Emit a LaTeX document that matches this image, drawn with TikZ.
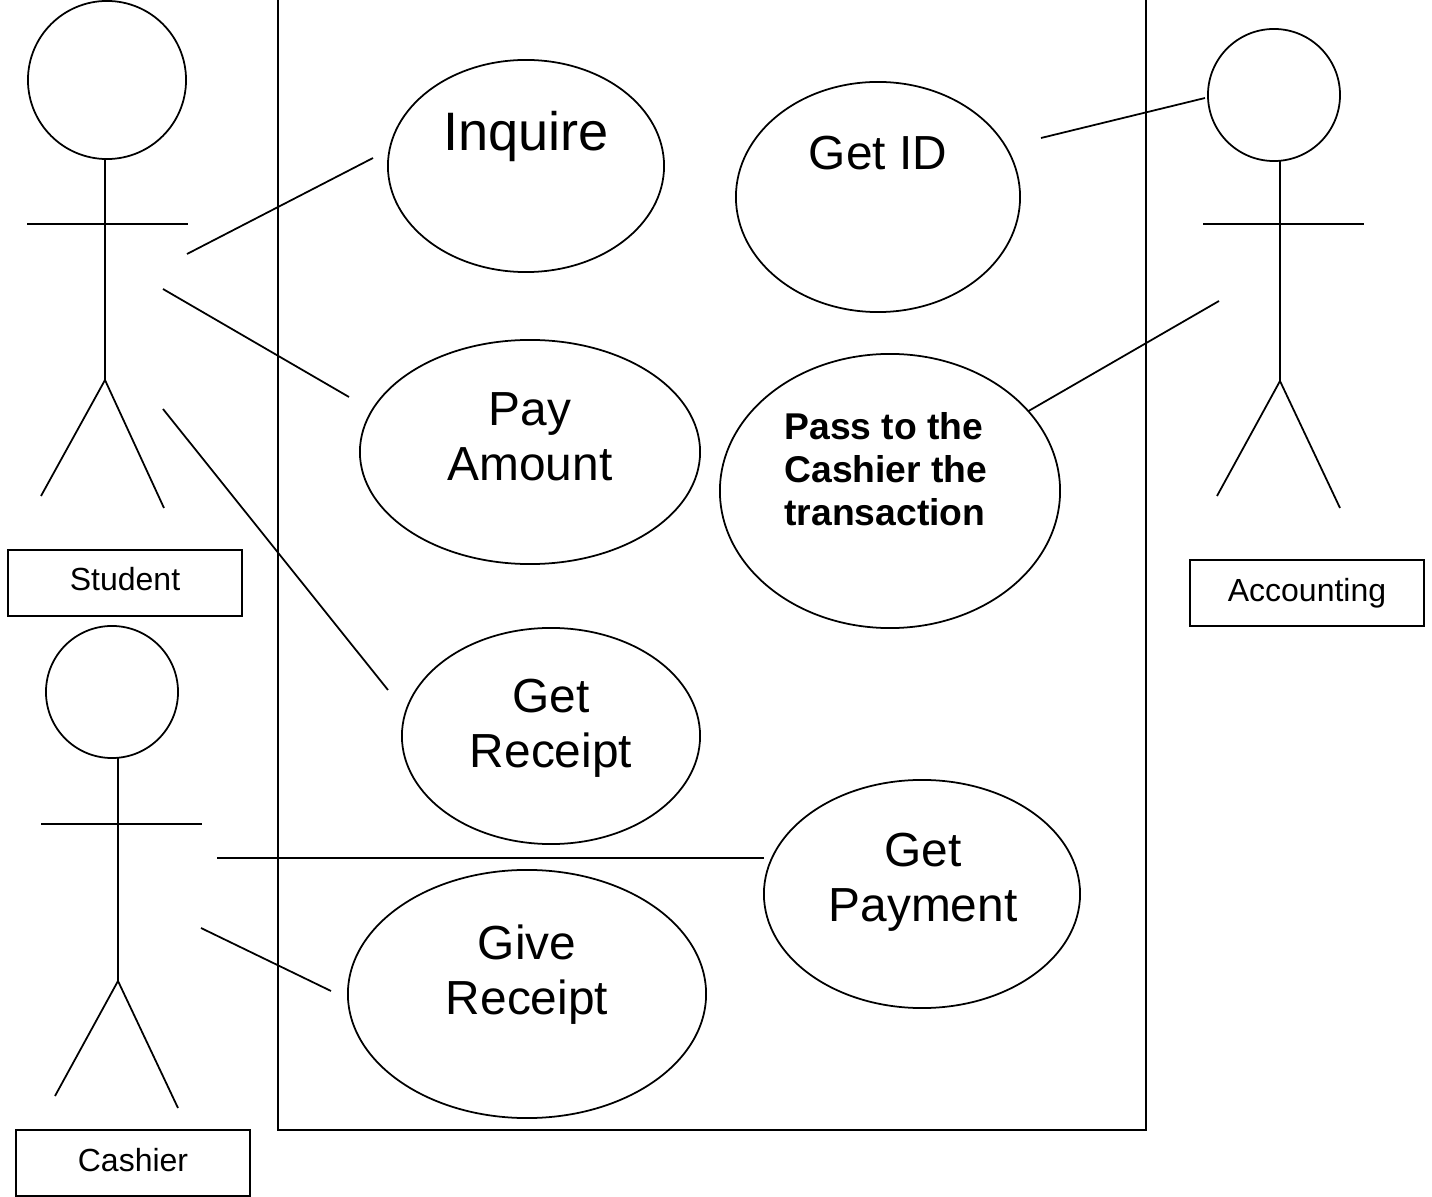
\documentclass[tikz,border=0pt]{standalone}
\usepackage{fontspec}
\setmainfont{Liberation Sans}
\usetikzlibrary{shapes.geometric}
\tikzset{
    line/.style={line width=0.5pt},
    usecase/.style={draw, line width=0.5pt, ellipse, inner sep=0pt, outer sep=0pt},
    head/.style={draw, line width=0.5pt, circle, inner sep=0pt, outer sep=0pt},
    namebox/.style={draw, line width=0.5pt, minimum width=2.34cm, minimum height=0.66cm, inner sep=0pt, font=\fontsize{9.1}{11}\selectfont},
    bigtext/.style={align=center, inner sep=0pt, font=\fontsize{13.6}{15.7}\selectfont},
}
\begin{document}
\begin{tikzpicture}[x=0.01cm, y=-0.01cm]
    \useasboundingbox (0,0) rectangle (1432,1197);
    % system boundary
    \draw[line] (278,0) -- (278,1130) -- (1146,1130) -- (1146,0);
    % use cases
    \node[usecase, minimum width=2.76cm, minimum height=2.12cm] (inquire) at (526,166) {};
    \node[usecase, minimum width=2.84cm, minimum height=2.30cm] (getid) at (878,197) {};
    \node[usecase, minimum width=3.40cm, minimum height=2.24cm] (pay) at (530,452) {};
    \node[usecase, minimum width=3.40cm, minimum height=2.74cm] (pass) at (890,491) {};
    \node[usecase, minimum width=2.98cm, minimum height=2.16cm] (getreceipt) at (551,736) {};
    \node[usecase, minimum width=3.16cm, minimum height=2.28cm] (getpayment) at (922,894) {};
    \node[usecase, minimum width=3.58cm, minimum height=2.48cm] (givereceipt) at (527,994) {};
    \node[bigtext, font=\fontsize{15.4}{18}\selectfont] (inquiretext) at (526,137) {Inquire};
    \node[bigtext] (getidtext) at (878,153) {Get ID};
    \node[bigtext] (paytext) at (530,437) {Pay\\Amount};
    \node[align=left, inner sep=0pt, font=\fontsize{10.6}{12.3}\selectfont\bfseries] (passtext) at (886,469) {Pass to the\\Cashier the\\transaction};
    \node[bigtext] (getreceipttext) at (551,728) {Get\\Receipt};
    \node[bigtext] (getpaymenttext) at (923,882) {Get\\Payment};
    \node[bigtext] (givereceipttext) at (527,975) {Give\\Receipt};
    % actors
    \foreach \name/\hx/\hy/\hd in {student/107/80/1.58, accounting/1274/95/1.32, cashier/112/692/1.32} {
        \node[head, minimum size=\hd cm] (\name head) at (\hx,\hy) {};
    }
    \draw[line] (studenthead.south) ++(-2,0) -- (105,380) coordinate (studenthip);
    \draw[line] (27,224) -- (188,224);
    \draw[line] (41,496) -- (studenthip) -- (164,508);
    \draw[line] (accountinghead.south) ++(6,0) -- (1280,381) coordinate (accountinghip);
    \draw[line] (1203,224) -- (1364,224);
    \draw[line] (1217,496) -- (accountinghip) -- (1340,508);
    \draw[line] (cashierhead.south) ++(6,0) -- (118,981) coordinate (cashierhip);
    \draw[line] (41,824) -- (202,824);
    \draw[line] (55,1096) -- (cashierhip) -- (178,1108);
    \node[namebox] (studentbox) at (125,583) {\raisebox{0.08cm}{Student}};
    \node[namebox] (accountingbox) at (1307,593) {Accounting};
    \node[namebox] (cashierbox) at (133,1163) {\raisebox{0.06cm}{Cashier}};
    % connectors
    \coordinate (a) at (187,254);
    \coordinate (b) at (373,158);
    \coordinate (c) at (163,289);
    \coordinate (d) at (349,397);
    \coordinate (e) at (163,409);
    \coordinate (f) at (388,690);
    \coordinate (g) at (1041,138);
    \coordinate (h) at (1205,98);
    \coordinate (i) at (1219,301);
    \coordinate (j) at (217,858);
    \coordinate (k) at (201,928);
    \coordinate (l) at (331,991);
    \draw[line] (a) -- (b);
    \draw[line] (c) -- (d);
    \draw[line] (e) -- (f);
    \draw[line] (g) -- (h);
    \draw[line] (pass.30) -- (i);
    \draw[line] (j) -- (j -| getpayment.west);
    \draw[line] (k) -- (l);
\end{tikzpicture}
\end{document}
